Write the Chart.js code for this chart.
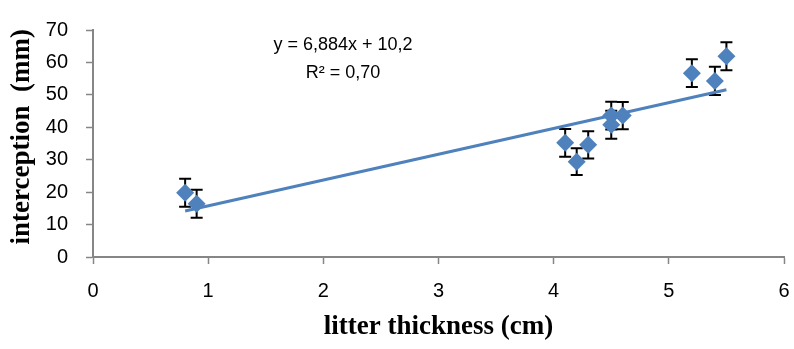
<!DOCTYPE html>
<html>
<head>
<meta charset="utf-8">
<script src="https://cdn.jsdelivr.net/npm/chart.js@4/dist/chart.umd.min.js"></script>
<style>
  html, body { margin: 0; padding: 0; background: #fff; }
  #wrap { width: 794px; height: 349px; }
</style>
</head>
<body>
<div id="wrap"><canvas id="chart" width="794" height="349"></canvas></div>
<script>
// litter thickness (cm) vs interception (mm)
const thickness = [0.8, 0.9, 4.1, 4.2, 4.3, 4.5, 4.5, 4.6, 5.2, 5.4, 5.5];
const interception = [19.8, 16.4, 35.2, 29.4, 34.6, 43.6, 40.8, 43.6, 56.7, 54.3, 61.9];
const errors = [4.3, 4.3, 4.3, 4.1, 4.2, 4.3, 4.3, 4.2, 4.3, 4.35, 4.35];
const xTicks = [0, 1, 2, 3, 4, 5, 6];
const yTicks = [0, 10, 20, 30, 40, 50, 60, 70];
const equationLines = ['y = 6,884x + 10,2', 'R\u00B2 = 0,70'];

const BLUE = '#4F81BD';
const AXIS = '#868686';
const SANS = '"Liberation Sans", Arial, sans-serif';
const SERIF = '"Liberation Serif", "Times New Roman", serif';

// least squares line through the points
function linearFit(xs, ys) {
    const n = xs.length;
    const mx = xs.reduce((a, b) => a + b, 0) / n;
    const my = ys.reduce((a, b) => a + b, 0) / n;
    let sxy = 0, sxx = 0;
    for (let i = 0; i < n; i++) {
        sxy += (xs[i] - mx) * (ys[i] - my);
        sxx += (xs[i] - mx) * (xs[i] - mx);
    }
    const slope = sxy / sxx;
    return { slope, intercept: my - slope * mx };
}

const fit = linearFit(thickness, interception);
const xMin = Math.min(...thickness);
const xMax = Math.max(...thickness);
const trend = [xMin, xMax].map(x => ({ x, y: fit.slope * x + fit.intercept }));
const points = thickness.map((x, i) => ({ x, y: interception[i] }));

// vertical error bars with caps
const errorBars = {
    id: 'errorBars',
    beforeDatasetsDraw(chart) {
        const { ctx, scales: { x, y } } = chart;
        ctx.save();
        ctx.strokeStyle = '#000';
        ctx.lineWidth = 2;
        points.forEach((p, i) => {
            const px = x.getPixelForValue(p.x);
            const top = y.getPixelForValue(p.y + errors[i]);
            const bot = y.getPixelForValue(p.y - errors[i]);
            ctx.beginPath();
            ctx.moveTo(px, top);
            ctx.lineTo(px, bot);
            ctx.moveTo(px - 6, top);
            ctx.lineTo(px + 6, top);
            ctx.moveTo(px - 6, bot);
            ctx.lineTo(px + 6, bot);
            ctx.stroke();
        });
        ctx.restore();
    }
};

const equationLabel = {
    id: 'equationLabel',
    afterDraw(chart) {
        const { ctx } = chart;
        ctx.save();
        ctx.fillStyle = '#000';
        ctx.font = '18px ' + SANS;
        ctx.textAlign = 'center';
        ctx.textBaseline = 'middle';
        ctx.fillText(equationLines[0], 343, 45);
        ctx.fillText(equationLines[1], 343, 73);
        ctx.restore();
    }
};

new Chart(document.getElementById('chart'), {
    type: 'scatter',
    data: {
        datasets: [{
            label: 'trend',
            type: 'line',
            data: trend,
            borderColor: BLUE,
            borderWidth: 3,
            pointRadius: 0,
            fill: false,
            order: 2
        }, {
            label: 'interception',
            data: points,
            pointStyle: 'rectRot',
            pointRadius: 9,
            pointHoverRadius: 9,
            backgroundColor: BLUE,
            borderColor: BLUE,
            borderWidth: 0,
            order: 1
        }]
    },
    options: {
        responsive: false,
        animation: false,
        layout: { padding: { top: 16, right: 0, left: 0, bottom: 0 } },
        plugins: {
            legend: { display: false },
            tooltip: { enabled: false }
        },
        scales: {
            x: {
                type: 'linear',
                min: 0,
                max: 6,
                afterBuildTicks: s => { s.ticks = xTicks.map(v => ({ value: v })); },
                afterFit: s => { s.height = 92; s.paddingRight = 10; },
                border: { color: AXIS, width: 2 },
                grid: { drawOnChartArea: false, color: AXIS, tickLength: 7, tickWidth: 1.5 },
                ticks: {
                    color: '#000',
                    padding: 15,
                    font: { family: SANS, size: 20 }
                },
                title: {
                    display: true,
                    text: 'litter thickness (cm)',
                    color: '#000',
                    padding: { top: 0, bottom: 6 },
                    font: { family: SERIF, size: 27, weight: 'bold' }
                }
            },
            y: {
                type: 'linear',
                min: 0,
                max: 70,
                afterBuildTicks: s => { s.ticks = yTicks.map(v => ({ value: v })); },
                afterFit: s => { s.width = 93; },
                border: { color: AXIS, width: 2 },
                grid: { drawOnChartArea: false, color: AXIS, tickLength: 7, tickWidth: 1.5 },
                ticks: {
                    color: '#000',
                    padding: 18,
                    font: { family: SANS, size: 20 }
                },
                title: {
                    display: true,
                    text: '  interception  (mm)',
                    color: '#000',
                    padding: { top: 6, bottom: 0 },
                    font: { family: SERIF, size: 27, weight: 'bold' }
                }
            }
        }
    },
    plugins: [errorBars, equationLabel]
});
</script>
</body>
</html>
